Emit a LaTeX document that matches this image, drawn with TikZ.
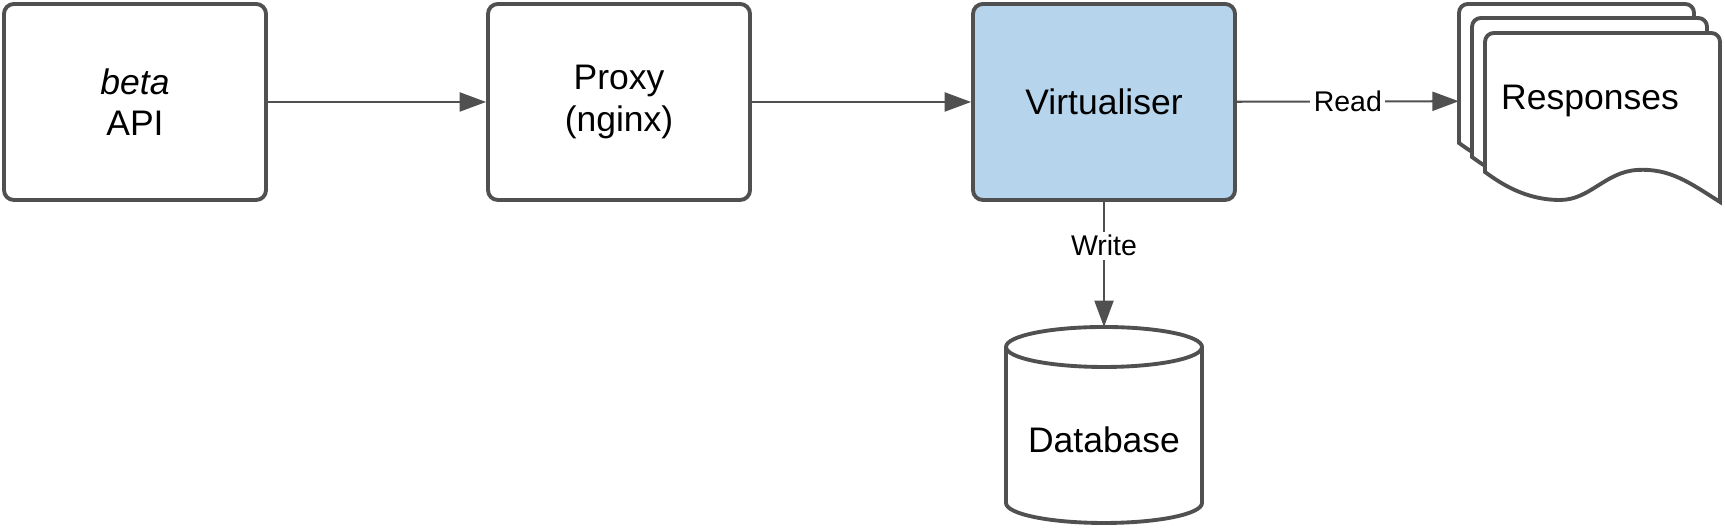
\documentclass[tikz,border=0pt]{standalone}
\usepackage{fontspec}
\setmainfont{Liberation Sans}
\usetikzlibrary{arrows.meta}
\definecolor{edgegray}{HTML}{505050}
\definecolor{virtblue}{HTML}{B6D5EC}
\newcommand{\docsheet}[2]{\begin{scope}[shift={(#1,#2)}]
  \draw[line width=1.1pt,draw=edgegray,fill=white] (0,-139) [rounded corners=2.5pt] -- (0,0) -- (235,0) [sharp corners] -- (235,-169) .. controls (205,-150) and (185,-135) .. (152,-137) .. controls (120,-139) and (105,-167) .. (75,-167) .. controls (40,-167) and (15,-150) .. (0,-139) -- cycle;
\end{scope}}

\begin{document}
\begin{tikzpicture}[x=0.1mm,y=0.1mm,
    procbox/.style={draw=edgegray,line width=1.1pt,rounded corners=2.8pt,fill=white,minimum width=26.2mm,minimum height=19.6mm,align=center,font=\fontsize{10.1}{11.8}\selectfont},
    flow/.style={draw=edgegray,line width=0.6pt,-{Triangle[length=7.5pt,width=5.4pt]}},
    lbl/.style={fill=white,inner sep=1pt,font=\fontsize{8.1}{9}\selectfont}]
        \useasboundingbox (0,0) rectangle (1725,529);
        %nodes
        \node[procbox] (beta) at (135,427) {\textit{beta}\\API};
        \node[procbox] (proxy) at (619,427) {Proxy\\(nginx)};
        \node[procbox,fill=virtblue] (virt) at (1104,427) {Virtualiser};
        \docsheet{1459}{525}
        \docsheet{1472}{511}
        \docsheet{1485}{496}
        \node[minimum width=26.1mm,minimum height=19.8mm,inner sep=0pt,font=\fontsize{10.1}{12}\selectfont] (resp) at (1590,428) {Responses};
        %database
        \draw[line width=1.1pt,draw=edgegray] (1006,182) -- (1006,26) arc[start angle=180,end angle=360,x radius=98,y radius=20] -- (1202,182);
        \draw[line width=1.1pt,draw=edgegray] (1104,182) ellipse[x radius=98,y radius=20];
        \node[font=\fontsize{10.1}{12}\selectfont] (db) at (1104,89) {Database};
        \coordinate (dbtop) at (1104,202);
        %edges
        \draw[flow] (beta) -- (proxy);
        \draw[flow] (proxy) -- (virt);
        \draw[flow] (virt) -- node[lbl]{Read} (resp);
        \draw[flow] (virt) -- node[lbl,pos=0.35]{Write} (dbtop);
\end{tikzpicture}
\end{document}
